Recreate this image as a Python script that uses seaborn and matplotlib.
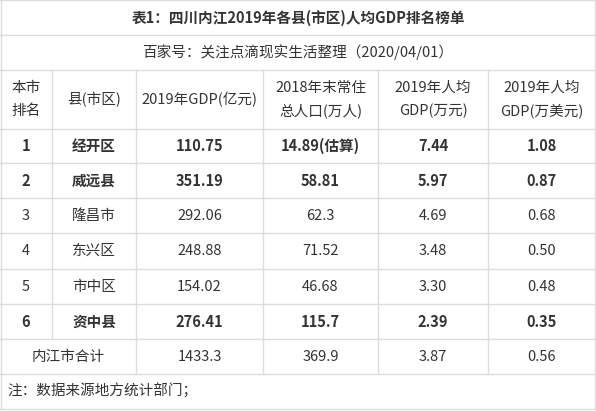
import matplotlib
matplotlib.use("Agg")
import matplotlib.pyplot as plt
import seaborn as sns

sns.set_theme(style="white")
plt.rcParams['font.family'] = ['Noto Sans CJK SC', 'DejaVu Sans']

title = "表1：四川内江2019年各县(市区)人均GDP排名榜单"
source = "百家号：关注点滴现实生活整理（2020/04/01）"
headers = ["本市\n排名", "县(市区)", "2019年GDP(亿元)", "2018年末常住\n总人口(万人)", "2019年人均\nGDP(万元)", "2019年人均\nGDP(万美元)"]
ranks = ["1", "2", "3", "4", "5", "6"]
counties = ["经开区", "威远县", "隆昌市", "东兴区", "市中区", "资中县"]
gdp = ["110.75", "351.19", "292.06", "248.88", "154.02", "276.41"]
population = ["14.89(估算)", "58.81", "62.3", "71.52", "46.68", "115.7"]
gdp_per_cny = ["7.44", "5.97", "4.69", "3.48", "3.30", "2.39"]
gdp_per_usd = ["1.08", "0.87", "0.68", "0.50", "0.48", "0.35"]
bold_rows = [True, True, False, False, False, True]
total = ["内江市合计", "1433.3", "369.9", "3.87", "0.56"]
note = "注：数据来源地方统计部门；"

W, H = 596, 411
fig = plt.figure(figsize=(W/100, H/100), dpi=100)
ax = fig.add_axes([0, 0, 1, 1])
ax.set_xlim(0, W); ax.set_ylim(H, 0); ax.axis("off")

cols = [0, 52, 136, 263, 378, 488, 595]
rows = [0.5, 35, 70, 129, 163, 198, 233, 269, 304, 339, 374, 409]
lc = "#dddddd"; tc = "#333333"
for y in rows:
    ax.plot([0, 595], [y, y], color=lc, lw=1)
ax.plot([0.5, 0.5], [0, 409], color=lc, lw=1)
ax.plot([595, 595], [0, 409], color=lc, lw=1)
for x in cols[1:-1]:
    ax.plot([x, x], [70, 339], color=lc, lw=1)
for x in cols[2:-1]:
    ax.plot([x, x], [339, 374], color=lc, lw=1)

cx = [(cols[i]+cols[i+1])/2 for i in range(6)]
fs = 10.5
ax.text(W/2, 17.5, title, ha="center", va="center", fontsize=fs, fontweight="bold", color=tc)
ax.text(W/2, 52.5, source, ha="center", va="center", fontsize=fs, color=tc)
for i, h in enumerate(headers):
    ax.text(cx[i], 99.5, h, ha="center", va="center", fontsize=fs, color=tc, linespacing=1.75)
for r in range(6):
    y = (rows[r+3]+rows[r+4])/2
    vals = [ranks[r], counties[r], gdp[r], population[r], gdp_per_cny[r], gdp_per_usd[r]]
    for i, v in enumerate(vals):
        ax.text(cx[i], y, v, ha="center", va="center", fontsize=fs, color=tc,
                fontweight="bold" if bold_rows[r] else "normal")
y = (339+374)/2
ax.text((cols[0]+cols[2])/2, y, total[0], ha="center", va="center", fontsize=fs, color=tc)
for i, v in enumerate(total[1:]):
    ax.text(cx[i+2], y, v, ha="center", va="center", fontsize=fs, color=tc)
ax.text(7, (374+409)/2, note, ha="left", va="center", fontsize=fs, color=tc)

fig.savefig("out.png", dpi=100, facecolor="white")
